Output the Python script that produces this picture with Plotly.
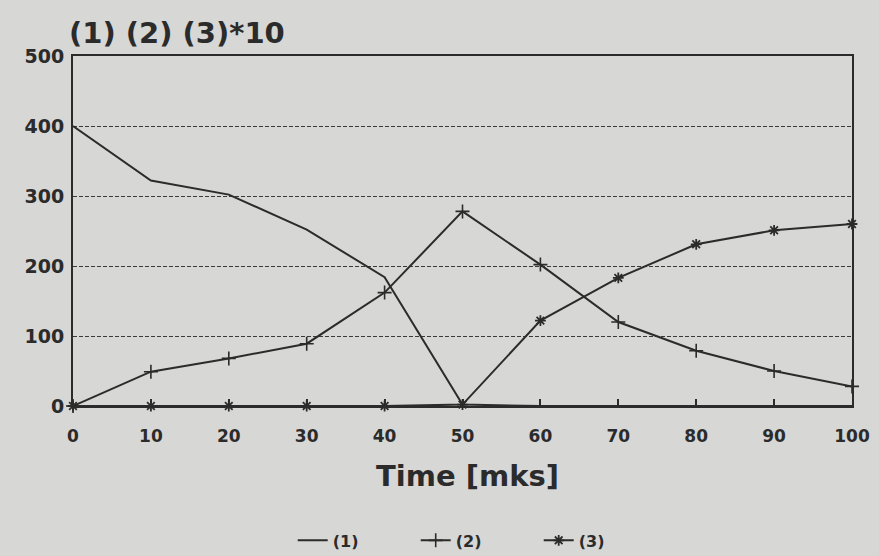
import plotly.graph_objects as go

time_mks = [0, 10, 20, 30, 40, 50, 60, 70, 80, 90, 100]
series_1 = [400, 322, 302, 252, 184, 2, 0, 0, 0, 0, 0]
series_2 = [0, 49, 68, 89, 162, 278, 202, 120, 79, 50, 28]
series_3 = [0, 0, 0, 0, 0, 2, 122, 183, 231, 251, 260]
names = ["(1)", "(2)", "(3)"]
x_ticks = [0, 10, 20, 30, 40, 50, 60, 70, 80, 90, 100]
y_ticks = [0, 100, 200, 300, 400, 500]

ink = "#2b2b2b"
paper = "#d7d7d5"
font_family = "DejaVu Sans, Liberation Sans, Arial, sans-serif"

fig = go.Figure()
fig.add_trace(go.Scatter(x=time_mks, y=series_1, name=names[0], mode="lines",
                         line=dict(color=ink, width=2), cliponaxis=False))
fig.add_trace(go.Scatter(x=time_mks, y=series_2, name=names[1], mode="lines+markers",
                         line=dict(color=ink, width=2),
                         marker=dict(symbol="cross-thin", size=10, color=ink,
                                     line=dict(color=ink, width=1.6)),
                         cliponaxis=False))
fig.add_trace(go.Scatter(x=time_mks, y=series_3, name=names[2], mode="lines+markers",
                         line=dict(color=ink, width=2),
                         marker=dict(symbol="asterisk", size=9, color=ink,
                                     line=dict(color=ink, width=1.8)),
                         cliponaxis=False))

fig.update_layout(
    width=879, height=556,
    margin=dict(l=73, r=27, t=56, b=150, autoexpand=False),
    paper_bgcolor=paper, plot_bgcolor=paper,
    font=dict(family=font_family, color=ink),
    showlegend=True,
    legend=dict(orientation="h", xref="container", yref="container",
                x=0.333, xanchor="left", y=0.028, yanchor="middle",
                bgcolor="rgba(0,0,0,0)",
                font=dict(size=16, family=font_family, color=ink, weight="bold"),
                entrywidth=78, entrywidthmode="pixels", tracegroupgap=0),
    annotations=[
        dict(text="(1) (2) (3)*10", xref="paper", yref="paper", x=-0.008, y=1.01,
             xanchor="left", yanchor="bottom", showarrow=False,
             font=dict(size=29, family=font_family, color=ink, weight="bold")),
        dict(text="Time [mks]", xref="paper", yref="paper", x=0.507, y=-0.2,
             xanchor="center", yanchor="middle", showarrow=False,
             font=dict(size=29, family=font_family, color=ink, weight="bold")),
    ],
)

fig.update_xaxes(range=[0, 100], tickvals=x_ticks, ticktext=[str(v) for v in x_ticks],
                 showgrid=False, zeroline=False,
                 showline=True, linecolor=ink, linewidth=2, mirror=True,
                 ticks="inside", ticklen=7, tickwidth=2, tickcolor=ink,
                 ticklabelstandoff=14,
                 tickfont=dict(size=17, family=font_family, color=ink, weight="bold"))
fig.update_yaxes(range=[0, 500], tickvals=y_ticks, ticktext=[str(v) for v in y_ticks],
                 showgrid=True, gridcolor="#3a3a3a", gridwidth=1.3, griddash="4px,2px",
                 zeroline=False,
                 showline=True, linecolor=ink, linewidth=2, mirror=True,
                 ticks="", ticklabelstandoff=3,
                 tickfont=dict(size=19, family=font_family, color=ink, weight="bold"))

fig.write_html(
    "out.html",
    config={"displayModeBar": False},
    post_script="document.body.style.margin='0';document.body.style.background='%s';" % paper,
)
